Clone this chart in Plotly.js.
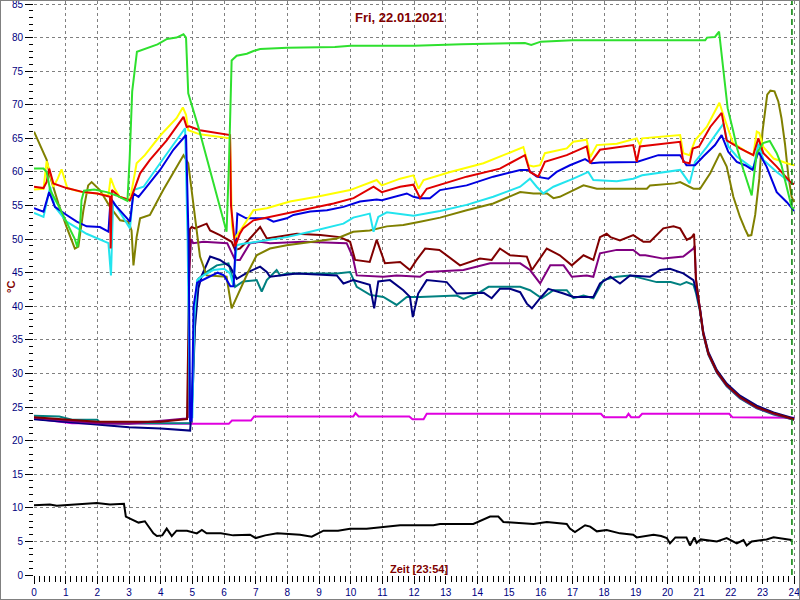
<!DOCTYPE html>
<html>
<head>
<meta charset="utf-8">
<script src="https://cdn.plot.ly/plotly-3.0.1.min.js"></script>
<style>
html,body{margin:0;padding:0;background:#fff;}
#wrap{width:800px;height:600px;box-sizing:border-box;border:1px solid #808080;overflow:hidden;}
#chart{width:798px;height:598px;}
</style>
</head>
<body>
<div id="wrap"><div id="chart"></div></div>
<script>
// [hour, °C] pairs
const green = [[0,60.5],[0.3,60.5],[0.4,60],[0.51,57.3],[0.77,55],[1.03,52.6],[1.29,50],[1.37,48.8],[1.45,51.6],[1.5,55.8],[1.58,57.2],[1.9,57.4],[2.3,57],[2.6,56.5],[2.95,55.7],[3.02,62],[3.1,72],[3.25,77.9],[3.6,78.5],[3.9,79],[4.2,79.8],[4.5,80],[4.72,80.5],[4.8,80],[4.87,71.7],[5.2,66.5],[5.6,59.5],[5.9,54],[6.08,51.1],[6.16,62],[6.24,76.6],[6.4,77.3],[6.72,77.6],[6.93,78],[7.14,78.3],[8.0,78.5],[9.5,78.6],[10.0,78.8],[12.0,78.8],[13.5,79.0],[15.5,79.2],[15.7,78.9],[16.0,79.4],[17.0,79.6],[21.19,79.6],[21.25,80],[21.5,80.1],[21.63,80.9],[21.7,78],[21.76,74.7],[21.9,69.5],[22.07,66.2],[22.2,63.5],[22.4,60.3],[22.55,58],[22.66,56.5],[22.72,59],[22.82,62.8],[23.02,64.3],[23.23,64.6],[23.45,62.8],[23.6,61],[23.71,58.8],[23.92,54.8],[24,54.5]];
const yellow = [[0,57.4],[0.3,57.5],[0.4,61.6],[0.5,60],[0.61,57.8],[0.75,59],[0.87,60.4],[0.95,59],[1.05,57.6],[1.5,57],[2.0,56.8],[2.35,56.5],[2.42,59.1],[2.55,57.5],[2.7,56.3],[3.03,55.8],[3.1,57.5],[3.24,61.3],[3.5,62.5],[4.0,65.5],[4.5,68],[4.7,69.6],[4.8,68.5],[4.87,66.2],[5.24,65.6],[6.19,65],[6.25,52],[6.32,50],[6.56,51.6],[6.93,54.3],[7.35,54.6],[8.08,55.6],[8.93,56.3],[9.98,57.3],[10.82,58.8],[10.98,58],[11.56,59],[11.98,59.5],[12.14,57.5],[12.3,58.8],[13.14,60],[14.19,61.3],[15.45,63.7],[15.61,61],[15.77,60.8],[15.98,61],[16.13,62.8],[16.82,63.5],[17.03,64.5],[17.45,64.8],[17.56,62.2],[17.77,64],[18.4,64.2],[19.03,65],[19.13,64],[19.2,65],[20.4,65.5],[20.5,62.8],[20.7,62.5],[20.87,64.7],[21.24,66.7],[21.64,70.3],[21.82,67.7],[22.07,64.3],[22.5,63],[22.71,62.5],[22.82,66],[22.9,65.8],[23.03,63.7],[23.35,62],[23.77,61.3],[24,61]];
const red = [[0,57.8],[0.3,57.6],[0.4,58.5],[0.48,60.5],[0.61,58.3],[1.03,57.6],[1.56,57],[2.0,56.8],[2.4,56.3],[2.42,48.6],[2.46,57.3],[2.7,56.3],[3.03,55.8],[3.08,56.3],[3.35,59.8],[3.66,61.8],[4.19,64.7],[4.72,68.2],[4.82,66.7],[4.9,66.8],[5.24,66.2],[6.19,65.5],[6.22,55],[6.35,48.9],[6.5,50.8],[6.6,51.6],[6.93,52.8],[7.35,53.2],[8.4,54.3],[9.46,55.3],[10.09,56.1],[10.72,57.8],[10.98,57],[11.56,57.8],[11.98,58.1],[12.19,56.1],[12.4,57.5],[13.66,59.3],[14.71,60.5],[15.5,62.5],[15.66,60],[15.92,59.3],[16.13,61.5],[16.82,62.5],[17.45,63.8],[17.56,61.3],[17.87,63.3],[18.92,64],[19.03,61.5],[19.13,63.8],[20.4,64.5],[20.5,61.5],[20.7,61.3],[20.8,63.5],[21.0,63.8],[21.35,66.7],[21.71,68.8],[21.87,64.7],[22.29,63.5],[22.71,62.5],[22.87,65],[23.03,62.8],[23.45,60.8],[23.92,58.3],[24,58.2]];
const blue = [[0,54.6],[0.3,54.1],[0.48,57],[0.66,54.8],[1.03,53.6],[1.35,52.6],[1.66,51.9],[2.08,51.8],[2.35,51.1],[2.42,56.1],[2.56,55.1],[3.03,52.6],[3.14,56.8],[3.3,56.3],[3.56,57.8],[3.98,60.3],[4.4,63.3],[4.8,65.5],[4.88,50],[4.93,23],[4.98,23],[5.04,40],[5.15,43.5],[5.5,44.3],[5.8,45],[6.0,44.6],[6.2,43],[6.3,43],[6.42,53.8],[6.7,53.1],[7.35,53.1],[7.56,52.6],[7.98,53.1],[8.19,53.6],[8.72,54.1],[9.25,54.3],[9.77,54.8],[10.29,55.6],[10.82,55.9],[10.98,55.8],[11.35,56.3],[11.77,56.8],[11.98,56.3],[12.19,56.1],[12.5,56.1],[12.82,57.3],[13.66,58],[14.5,59.3],[15.35,60.3],[15.6,60.3],[15.87,59.3],[16.24,59],[16.5,60],[16.92,61],[17.4,61.9],[17.6,61.3],[17.87,61.4],[18.5,61.5],[19.03,61.5],[19.71,62.5],[20.4,62.5],[20.6,61],[20.87,61],[21.13,62.3],[21.5,64],[21.71,65.5],[21.92,63],[22.19,61.5],[22.45,61],[22.69,60.3],[22.87,63],[23.13,60.8],[23.45,57],[23.77,55.5],[24,54.2]];
const cyan = [[0,53.9],[0.3,53.3],[0.51,57.8],[0.66,54.8],[1.03,52.6],[1.66,50.8],[2.35,49.4],[2.43,44.6],[2.5,55.6],[3.03,51.6],[3.14,57.3],[3.46,57.8],[3.98,61.3],[4.4,64],[4.77,66.5],[4.85,50],[4.92,23.5],[5.0,23.5],[5.06,38],[5.15,43.9],[5.35,44.6],[5.66,45.4],[6.0,45.6],[6.19,44.9],[6.29,43.2],[6.4,49.1],[6.6,49.3],[7.03,49.6],[7.98,50.3],[8.72,51.1],[9.77,52.3],[10.08,53.2],[10.6,53.8],[10.72,51.1],[10.87,53.3],[11.14,54],[11.98,53.5],[12.82,54.2],[13.66,55.1],[14.5,56.3],[15.35,57.8],[15.66,59],[15.87,57.8],[16.08,56.8],[16.4,57.8],[17.03,59],[17.5,60],[17.66,58.8],[18.4,58.6],[18.92,59],[19.2,59.5],[20.4,60.3],[20.7,58.3],[20.87,61.5],[21.24,63.7],[21.77,67.2],[21.92,63.8],[22.19,62.3],[22.71,60.5],[22.87,64.2],[23.03,61.8],[23.45,60],[23.92,58.3],[24,58.2]];
const olive = [[0,66],[0.4,61.8],[0.51,59.3],[0.77,55.3],[1.03,51.8],[1.29,48.6],[1.4,48.9],[1.56,54.3],[1.71,58],[1.82,58.5],[2.08,57.3],[2.4,54.8],[2.72,52.8],[2.98,52.6],[3.08,51.3],[3.14,46.1],[3.24,50.3],[3.35,53.1],[3.66,53.6],[4.08,57.3],[4.72,62.5],[4.87,61.3],[5.03,55.3],[5.24,47.4],[5.45,44.6],[6.08,44.4],[6.24,39.7],[6.4,41.4],[6.76,45.1],[7.03,47.6],[7.45,48.6],[7.98,49.1],[8.72,49.6],[9.56,50.1],[10.08,51.1],[10.6,51.3],[11.14,51.9],[11.66,52.1],[12.19,52.6],[12.82,53.2],[13.66,54.3],[14.5,55.3],[15.35,57],[15.77,56.8],[16.2,56.8],[16.4,56.1],[16.6,56.3],[17.35,58],[17.77,57.5],[19.35,57.5],[19.45,58],[20.24,58.3],[20.4,58.5],[20.6,58],[20.82,57.5],[21.03,57.5],[21.35,59.8],[21.66,62.8],[21.87,60.8],[22.08,56.3],[22.29,53.3],[22.45,51.5],[22.55,50.5],[22.65,50.6],[22.77,53.6],[22.9,59],[23.0,66],[23.15,71.5],[23.25,72.1],[23.38,72],[23.5,70.5],[23.6,68],[23.71,64.2],[23.82,59.3],[23.92,56.3],[24,55.5]];
const maroon = [[0,23.5],[1,23.2],[2,22.8],[4,22.8],[4.83,23.2],[4.87,35],[4.92,51.5],[4.98,51.8],[5.08,51.6],[5.45,52.3],[5.56,51.3],[5.87,50.6],[6.24,49.6],[6.35,48.4],[6.5,48.6],[6.76,49.8],[7.14,51.8],[7.35,50.1],[7.98,50.6],[8.3,50.8],[9.04,50.6],[9.66,50.3],[9.98,49.6],[10.14,46.9],[10.6,46.6],[10.82,49.9],[11.08,46.4],[11.56,46.6],[11.87,45.4],[12.08,46.9],[12.35,48.6],[12.8,48.4],[13.45,46.1],[14.08,47.1],[14.45,46.9],[14.71,48.6],[15.03,47.6],[15.56,47.4],[15.72,45.4],[16.19,48.6],[16.6,47.6],[16.98,46.1],[17.35,47.6],[17.66,46.9],[17.87,50.3],[18.08,50.8],[18.2,50.3],[18.5,49.8],[18.92,50.6],[19.24,49.6],[19.45,49.6],[19.87,51.6],[20.19,51.9],[20.4,51.6],[20.61,49.9],[20.77,50.3],[20.84,50.8],[20.9,44],[21.03,39.4],[21.13,36],[21.29,33],[21.56,30.3],[21.87,28.3],[22.29,26.5],[22.82,25],[23.35,24.1],[23.92,23.3],[24,23.2]];
const purple = [[0,23.4],[1,23],[2,22.6],[3,22.5],[4.8,23.3],[4.86,23.5],[4.9,45],[4.96,50],[5.03,49.4],[5.35,49.6],[6.1,49.4],[6.35,46.9],[6.5,46.9],[6.82,49.4],[7.14,49.6],[7.45,49.4],[8.5,49.6],[9.87,49.4],[10.06,47.4],[10.19,44.6],[11.03,44.4],[11.45,44.6],[12.19,44.4],[12.4,45.1],[13.56,45.4],[14.4,46.4],[15.35,46.4],[15.66,45.4],[15.98,43.4],[16.3,46.1],[16.72,46.1],[16.98,44.4],[17.45,44.6],[17.66,44.4],[17.87,47.9],[18.4,48.4],[18.92,48.4],[19.13,47.6],[19.3,47.6],[19.87,47.1],[20.5,47.4],[20.82,48.6],[20.86,49],[20.9,44],[21.03,39.3],[21.13,35.9],[21.29,32.9],[21.56,30.2],[21.87,28.2],[22.29,26.4],[22.82,24.9],[23.35,24.0],[23.92,23.2],[24,23.1]];
const navy = [[0,23.2],[1,22.8],[2,22.3],[3,22],[4,21.8],[4.93,21.5],[5.01,27],[5.08,36.8],[5.19,42.7],[5.3,44.6],[5.56,47.4],[5.87,46.9],[6.19,45.9],[6.4,44.1],[6.76,45.1],[7.14,45.9],[7.35,45.1],[7.45,44.4],[8.3,44.9],[9.56,44.6],[9.77,43.4],[10.08,43.9],[10.6,43.2],[10.74,39.7],[10.87,43.7],[11.24,43.9],[11.66,42.4],[11.87,41.4],[11.96,38.4],[12.13,41.9],[12.4,43.9],[13.03,43.6],[13.35,41.9],[13.87,41.9],[14.2,42],[14.45,41.2],[14.71,42.6],[15.03,42.6],[15.35,42.1],[15.56,40.4],[15.72,39.7],[15.98,41.2],[16.24,42.6],[16.72,41.9],[17.03,41.4],[17.66,41.4],[17.87,43.4],[18.2,44.4],[18.5,43.4],[18.82,44.6],[19.2,44.5],[19.45,44.4],[19.77,45.4],[20.08,45.6],[20.5,44.9],[20.82,43.9],[20.9,42.5],[21.03,39.6],[21.13,36.2],[21.29,33.2],[21.56,30.5],[21.87,28.5],[22.29,26.7],[22.82,25.2],[23.35,24.2],[23.92,23.4],[24,23.3]];
const teal = [[0,23.7],[0.8,23.6],[1.2,23.1],[2.0,23.1],[2.1,22.6],[4.93,22.6],[5.02,30],[5.1,40],[5.19,44.1],[5.45,45.1],[5.77,46.1],[6.14,46.4],[6.35,42.9],[6.6,43.7],[7.03,43.9],[7.19,42.2],[7.35,43.9],[7.66,45.4],[7.77,44.6],[7.98,44.9],[9.56,44.9],[9.98,45.1],[10.19,42.9],[10.61,41.7],[11.03,41.4],[11.45,40.2],[11.77,41.4],[12.19,41.4],[13.35,41.6],[13.56,41.1],[14.08,42.1],[14.35,42.9],[15.35,42.9],[15.66,42.4],[16.03,41.2],[16.4,42.4],[16.82,42.4],[17.03,41.2],[17.35,41.6],[17.66,41.2],[17.98,43.9],[18.4,44.4],[18.82,44.6],[19.24,44.1],[19.66,43.6],[20.1,43.6],[20.4,43.2],[20.6,43.6],[20.82,43.2],[20.9,42],[21.03,39.2],[21.13,35.8],[21.29,32.8],[21.56,30.1],[21.87,28.1],[22.29,26.3],[22.82,24.8],[23.35,23.9],[23.92,23.2],[24,23.1]];
const magenta = [[0,23.3],[1.2,22.6],[4.9,22.5],[6.15,22.5],[6.25,23.0],[6.85,23.0],[6.95,23.6],[10.08,23.6],[10.15,24.1],[10.25,23.6],[11.85,23.6],[11.95,23.2],[12.3,23.2],[12.4,24.0],[17.9,24.0],[18.0,23.5],[18.7,23.5],[18.77,24.0],[18.85,23.5],[19.1,23.5],[19.2,24.0],[21.95,24.0],[22.05,23.5],[24,23.4]];
const black = [[0,10.4],[0.5,10.5],[0.72,10.3],[1.03,10.4],[1.56,10.6],[1.98,10.7],[2.4,10.5],[2.84,10.6],[2.9,8.7],[3.14,8.2],[3.3,7.8],[3.5,8.0],[3.77,6.2],[3.88,5.8],[4.05,5.9],[4.19,6.9],[4.35,5.8],[4.5,6.6],[4.83,6.6],[5.14,6.2],[5.3,6.7],[5.45,6.2],[5.9,6.2],[6.29,5.9],[6.82,6.0],[7.0,5.5],[7.3,5.9],[7.68,6.2],[8.4,6.0],[8.77,5.7],[9.14,6.6],[9.6,6.6],[9.98,6.9],[10.5,6.9],[11.03,7.2],[11.56,7.4],[12.61,7.4],[12.82,7.6],[13.87,7.6],[14.14,8.2],[14.4,8.7],[14.66,8.7],[14.82,7.9],[15.77,7.6],[16.19,7.9],[16.82,7.6],[16.92,6.9],[17.08,6.4],[17.25,7.0],[17.4,7.4],[17.56,7.2],[17.77,6.5],[18.08,6.7],[18.5,6.2],[18.92,6.0],[19.03,5.6],[19.56,6.0],[19.8,5.8],[19.98,5.5],[20.08,4.7],[20.25,5.6],[20.6,5.6],[20.71,4.4],[20.85,5.6],[20.92,4.8],[21.05,5.3],[21.56,5.0],[21.87,5.5],[22.19,4.7],[22.4,5.2],[22.5,4.4],[22.66,5.0],[23.13,5.3],[23.35,5.6],[23.92,5.2]];

const titleText = 'Fri, 22.01.2021';
const xLabel = 'Zeit [23:54]';
const yLabel = '°C';
const nowHour = 23.93;
const xTicks = [0,1,2,3,4,5,6,7,8,9,10,11,12,13,14,15,16,17,18,19,20,21,22,23,24];

const seriesList = [
  [black, '#000000'],
  [magenta, '#e000e0'],
  [teal, '#008080'],
  [navy, '#000080'],
  [purple, '#800080'],
  [maroon, '#800000'],
  [olive, '#808000'],
  [cyan, '#22e4ee'],
  [blue, '#0000e0'],
  [yellow, '#ffff00'],
  [red, '#e00000'],
  [green, '#2ee02e']
];

const traces = seriesList.map(([pts, col]) => ({
  type: 'scatter', mode: 'lines',
  x: pts.map(p => p[0]), y: pts.map(p => p[1]),
  line: {color: col, width: 2},
  hoverinfo: 'skip', showlegend: false
}));

const fontFam = '"Liberation Sans", Arial, sans-serif';
const layout = {
  width: 798, height: 598,
  margin: {l: 33, r: 2, t: 0, b: 24, pad: 0},
  paper_bgcolor: '#ffffff', plot_bgcolor: '#ffffff',
  showlegend: false,
  xaxis: {
    range: [0, 24.09], autorange: false,
    tickmode: 'array', tickvals: xTicks, ticktext: xTicks.map(String),
    ticks: 'outside', ticklen: 8, tickwidth: 1, tickcolor: '#000',
    ticklabeloverflow: 'allow',
    showgrid: true, gridcolor: '#808080', gridwidth: 1, griddash: '3px,3px',
    zeroline: false, showline: false,
    tickfont: {family: fontFam, size: 10, color: '#000080'},
    minor: {dtick: 1/6, tick0: 0, ticks: 'outside', ticklen: 6, tickcolor: '#000', showgrid: false},
    fixedrange: true
  },
  yaxis: {
    range: [0, 85.45], autorange: false,
    dtick: 5, tick0: 0,
    ticks: 'outside', ticklen: 8, tickwidth: 1, tickcolor: '#000',
    ticklabeloverflow: 'allow',
    showgrid: true, gridcolor: '#808080', gridwidth: 1, griddash: '3px,3px',
    zeroline: false, showline: false,
    tickfont: {family: fontFam, size: 10, color: '#000080'},
    minor: {dtick: 1, tick0: 0, ticks: 'outside', ticklen: 4, tickcolor: '#000', showgrid: false},
    fixedrange: true
  },
  shapes: [{
    type: 'line', xref: 'x', yref: 'paper', x0: nowHour, x1: nowHour, y0: 0, y1: 1,
    line: {color: '#008000', width: 1.5, dash: '6px,4px'}
  }],
  annotations: [
    {text: '<b>' + titleText + '</b>', xref: 'paper', yref: 'paper', x: 0.479, y: 0.972,
     xanchor: 'center', yanchor: 'middle', showarrow: false,
     font: {family: fontFam, size: 13, color: '#800000'}},
    {text: '<b>' + xLabel + '</b>', xref: 'paper', yref: 'paper', x: 0.5046, y: 0.0105,
     xanchor: 'center', yanchor: 'middle', showarrow: false,
     font: {family: fontFam, size: 11, color: '#800000'}},
    {text: '<b>' + yLabel + '</b>', xref: 'paper', yref: 'paper', x: -0.030, y: 0.502,
     xanchor: 'center', yanchor: 'middle', showarrow: false, textangle: -90,
     font: {family: fontFam, size: 11, color: '#800000'}}
  ]
};

Plotly.newPlot('chart', traces, layout, {staticPlot: true, displayModeBar: false});
</script>
</body>
</html>
